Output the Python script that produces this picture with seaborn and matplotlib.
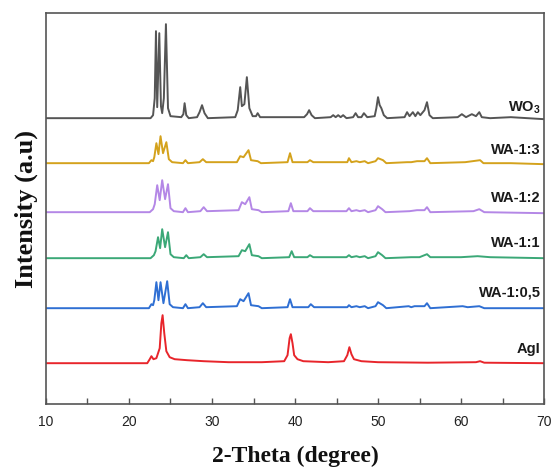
import matplotlib
matplotlib.use("Agg")
from matplotlib import pyplot as plt
import seaborn as sns
import pandas as pd
import numpy as np

sns.set_style("white")
plt.rcParams['font.family'] = ['Liberation Sans', 'DejaVu Sans']
plt.rcParams['mathtext.fontset'] = 'custom'
plt.rcParams['mathtext.bf'] = 'Liberation Sans:bold'
plt.rcParams['mathtext.rm'] = 'Liberation Sans'

# samples, top to bottom
samples = ['WO3', 'WA-1:3', 'WA-1:2', 'WA-1:1', 'WA-1:0,5', 'AgI']
labels = [r'$\mathbf{WO_3}$', 'WA-1:3', 'WA-1:2', 'WA-1:1', 'WA-1:0,5', 'AgI']
colors = ['#555555', '#d4a21c', '#b487e6', '#3ba877', '#2f6fd3', '#e8252b']

# 2-theta / intensity (intensity above each baseline)
wo3_theta = [10, 22.6, 22.9, 23.1, 23.25, 23.4, 23.65, 23.85, 24.0, 24.2, 24.45, 24.7, 25.0,
             26.3, 26.55, 26.7, 26.9, 27.2, 28.2, 28.5, 28.8, 29.1, 29.5, 32.8, 33.1, 33.4,
             33.6, 33.9, 34.2, 34.5, 34.9, 35.3, 35.5, 35.8, 41.1, 41.45, 41.7, 42.0, 42.4,
             44.3, 44.6, 44.9, 45.2, 45.5, 45.8, 46.2, 47.0, 47.3, 47.6, 48.0, 48.3, 48.7,
             49.6, 49.8, 50.0, 50.2, 50.4, 50.7, 51.1, 53.2, 53.5, 53.8, 54.2, 54.5, 54.8,
             55.1, 55.6, 55.9, 56.2, 56.6, 59.6, 60.1, 60.6, 61.3, 61.8, 62.2, 62.5, 63.5,
             66, 70]
wo3_int = [0, 0, 3, 20, 87, 11, 85, 12, 5, 20, 94, 10, 2,
           1, 4, 15, 3, 0, 1, 6, 13, 5, 0, 1, 8, 31,
           12, 14, 41, 10, 2, 2, 5, 1, 1, 4, 8, 3, 0,
           1, 3, 1, 3, 1, 3, 0, 1, 5, 1, 1, 5, 1,
           2, 10, 21, 13, 10, 3, 0, 1, 6, 2, 6, 2, 6,
           3, 8, 16, 3, 0, 1, 4, 1, 4, 2, 6, 1, 0,
           1, -1]

wa13_theta = [10, 22.4, 22.7, 22.9, 23.05, 23.3, 23.55, 23.8, 24.1, 24.5, 24.8, 25.2, 26.5,
              26.8, 27.1, 28.5, 28.9, 29.3, 33.0, 33.4, 33.8, 34.4, 34.7, 35.5, 35.9, 39.1,
              39.4, 39.7, 41.5, 41.8, 42.2, 46.3, 46.5, 46.8, 47.4, 47.8, 48.4, 48.8, 49.7,
              50.0, 50.6, 51.0, 53.5, 54.0, 54.7, 55.6, 55.9, 56.3, 60.5, 62.3, 62.7, 66, 70]
wa13_int = [0, 0, 3, 2, 6, 20, 9, 27, 10, 21, 4, 1, 0,
            3, 0, 1, 4, 1, 1, 7, 6, 13, 3, 2, 0, 1,
            10, 1, 1, 3, 1, 1, 5, 1, 2, 1, 2, 0, 2,
            5, 3, 0, 1, 1, 2, 2, 5, 0, 1, 3, 0, 0, -1]

wa12_theta = [10, 22.5, 22.9, 23.1, 23.4, 23.7, 24.0, 24.35, 24.7, 25.0, 25.4, 26.5, 26.8,
              27.1, 28.6, 29.0, 29.4, 33.2, 33.6, 34.0, 34.5, 34.8, 35.6, 36.0, 39.2, 39.5,
              39.8, 41.5, 41.8, 42.2, 46.2, 46.5, 46.8, 47.4, 47.8, 48.4, 48.8, 49.7, 50.0,
              50.5, 50.9, 53.8, 54.7, 55.6, 55.9, 56.3, 61.5, 62.2, 62.8, 70]
wa12_int = [0, 0, 3, 8, 27, 12, 32, 13, 28, 4, 1, 0, 4,
            0, 1, 5, 1, 2, 10, 8, 15, 3, 2, 0, 1, 9,
            1, 1, 4, 1, 1, 4, 1, 2, 1, 2, 0, 2, 6,
            3, 0, 1, 2, 2, 5, 0, 1, 3, 0, -1]

wa11_theta = [10, 22.6, 23.0, 23.2, 23.5, 23.75, 24.0, 24.35, 24.7, 25.0, 25.4, 26.6, 26.9,
              27.2, 28.6, 29.0, 29.4, 33.2, 33.6, 34.0, 34.5, 34.8, 35.6, 36.0, 39.3, 39.6,
              39.9, 41.5, 41.8, 42.2, 46.2, 46.5, 46.8, 47.4, 47.8, 48.4, 48.8, 49.7, 50.0,
              50.5, 50.9, 54.0, 55.0, 55.9, 56.3, 60, 62, 63.5, 70]
wa11_int = [0, 0, 3, 7, 21, 10, 29, 11, 26, 4, 1, 0, 3,
            0, 1, 4, 1, 2, 8, 7, 14, 3, 2, 0, 1, 7,
            1, 1, 3, 1, 1, 3, 1, 2, 1, 2, 0, 2, 6,
            3, 0, 1, 1, 4, 1, 1, 2, 1, 0]

wa105_theta = [10, 22.4, 22.7, 22.9, 23.05, 23.3, 23.55, 23.8, 24.15, 24.6, 24.9, 25.3, 26.5,
               26.8, 27.1, 28.5, 28.9, 29.3, 33.0, 33.4, 33.8, 34.4, 34.7, 35.6, 36.0, 39.1,
               39.4, 39.7, 41.6, 41.9, 42.3, 46.3, 46.5, 46.8, 47.4, 47.8, 48.4, 48.8, 49.7,
               50.0, 50.6, 51.0, 53.7, 54.0, 54.4, 55.1, 55.6, 55.9, 56.3, 60.2, 60.8, 62.2,
               62.8, 70]
wa105_int = [0, 0, 4, 3, 8, 26, 8, 26, 5, 27, 4, 1, 0,
             4, 0, 1, 5, 1, 2, 9, 7, 15, 3, 2, 0, 1,
             9, 1, 1, 4, 1, 1, 3, 1, 2, 1, 2, 0, 2,
             6, 3, 0, 2, 1, 2, 2, 2, 5, 0, 2, 1, 2,
             0, 0]

agi_theta = [10, 22.2, 22.5, 22.7, 22.95, 23.3, 23.7, 23.9, 24.05, 24.25, 24.5, 24.9, 25.5,
             27, 29, 32, 36, 38.7, 39.1, 39.35, 39.5, 39.7, 39.9, 40.3, 41, 44, 45.9, 46.3,
             46.55, 46.8, 47.1, 48, 50, 56, 61.8, 62.3, 62.8, 70]
agi_int = [0, 0, 4, 7, 4, 5, 15, 40, 48, 30, 12, 6, 4,
           3, 2, 1, 1, 2, 8, 25, 29, 20, 8, 4, 2, 1, 2, 8,
           16, 9, 4, 2, 1, 0.5, 1, 2, 0.5, 0]

thetas = [wo3_theta, wa13_theta, wa12_theta, wa11_theta, wa105_theta, agi_theta]
counts = [wo3_int, wa13_int, wa12_int, wa11_int, wa105_int, agi_int]

# vertical stacking of the patterns
offsets = [286, 241, 192, 146, 96, 41]
label_y = [296, 254, 206, 161, 112, 55]

frames = []
for name, th, ct, off in zip(samples, thetas, counts, offsets):
    frames.append(pd.DataFrame({'theta': th,
                                'intensity': np.array(ct, dtype=float) + off,
                                'sample': name}))
df = pd.concat(frames, ignore_index=True)

fig = plt.figure(figsize=(5.54, 4.70), dpi=100)
ax = fig.add_axes([0.083, 0.140, 0.899, 0.832])

sns.lineplot(data=df, x='theta', y='intensity', hue='sample', hue_order=samples,
             palette=colors, estimator=None, sort=False, legend=False,
             linewidth=1.4, ax=ax)

for lab, y in zip(labels, label_y):
    ax.text(69.6, y, lab, ha='right', va='center', fontsize=10.5,
            fontweight='bold', color='#1a1a1a')

ax.set_xlim(10, 70)
ax.set_ylim(0, 391)
ax.set_xticks(np.arange(10, 71, 10))
ax.set_xticks(np.arange(15, 70, 10), minor=True)
ax.set_yticks([])
ax.tick_params(axis='x', which='both', direction='in', length=4, width=1,
               color='#555555', labelsize=10, labelcolor='#222222', bottom=True,
               pad=8)

for sp in ax.spines.values():
    sp.set_color('#555555')
    sp.set_linewidth(1.2)

ax.set_xlabel('2-Theta (degree)', family='Liberation Serif', fontweight='bold',
              fontsize=17, color='#111111', labelpad=12)
ax.set_ylabel('Intensity (a.u)', family='Liberation Serif', fontweight='bold',
              fontsize=19, color='#111111', labelpad=6)

fig.savefig('out.png', dpi=100)
